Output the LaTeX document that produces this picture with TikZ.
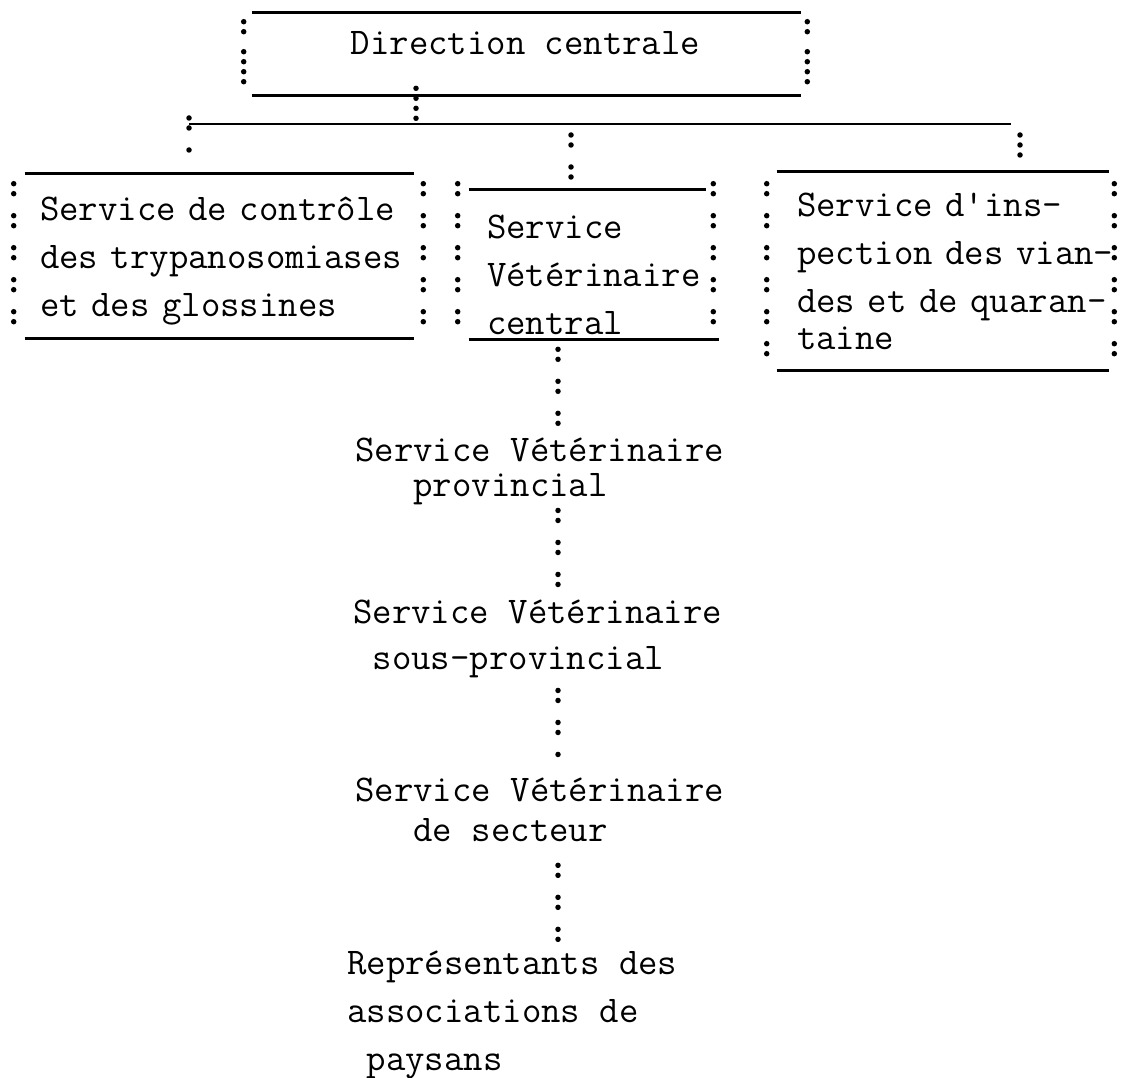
\documentclass[tikz,border=0pt]{standalone}
\usepackage{fontspec}

\tikzset{
  every picture/.style={line width=2.6pt},
  orgtext/.style={font=\ttfamily\fontsize{37.7}{48}\selectfont\addfontfeatures{FakeBold=1}, inner sep=0pt},
  boxrule/.style={line width=2.6pt},
  colonline/.style={line width=5.5pt, line cap=round, dash pattern={on 0pt off 10pt on 0pt off 22pt}},
  tapline/.style={colonline, dash pattern={on 0pt off 10pt}},
}

\begin{document}
\begin{tikzpicture}[x=1pt, y=-1pt]
    \useasboundingbox (0,0) rectangle (1129,1078);

    % direction
    \node[orgtext, minimum width=561pt, minimum height=80pt, text depth=22pt] (dc) at (525.5,54) {Direction centrale};

    % the three services
    \node[orgtext, align=left, text width=357pt, inner xsep=25pt, minimum height=162pt, text height=34pt] (ctrl) at (218.5,256)
        {\mbox{Service de contrôle}\\\mbox{des trypanosomiases}\\et des glossines};
    \node[orgtext, align=left, text width=197pt, inner xsep=28pt, minimum height=147pt, text height=45pt] (vet) at (585.5,264.5)
        {Service\\\mbox{Vétérinaire}\\central};
    \node[orgtext, align=left, text width=287pt, inner xsep=29pt, minimum height=196pt] (insp) at (940.5,271)
        {Service d'ins-\\\mbox{pection des vian-}\\\mbox{des et de quaran-}\\[-11pt]taine};

    % chain below the central service
    \node[orgtext, align=left, anchor=north west] (prov) at (354,437) {Service Vétérinaire\\[-13pt]\hphantom{xxx}provincial};
    \node[orgtext, align=left, anchor=north west] (sous) at (352,599) {Service Vétérinaire\\[-2pt]\hphantom{x}sous-provincial};
    \node[orgtext, align=left, anchor=north west] (sect) at (354,777) {Service Vétérinaire\\[-8pt]\hphantom{xxx}de secteur};
    \node[orgtext, align=left, anchor=north west] (rep) at (346,950) {Représentants des\\associations de\\\hphantom{x}paysans};

    % frames
    \draw[boxrule, shorten <=8pt, shorten >=6pt] (dc.north west) -- (dc.north east);
    \draw[boxrule, shorten <=8pt, shorten >=6pt] (dc.south west) -- (dc.south east);
    \draw[colonline, dash pattern={on 0pt off 10pt on 0pt off 20pt on 0pt off 10pt on 0pt off 10pt}, shorten <=9pt, shorten >=8pt] (dc.north west) -- (dc.south west);
    \draw[colonline, dash pattern={on 0pt off 10pt on 0pt off 20pt on 0pt off 10pt on 0pt off 10pt}, shorten <=9pt, shorten >=8pt] (dc.north east) -- (dc.south east);

    \draw[boxrule, shorten <=11pt, shorten >=9pt] (ctrl.north west) -- (ctrl.north east);
    \draw[boxrule, shorten <=11pt, shorten >=9pt] (ctrl.south west) -- (ctrl.south east);
    \draw[colonline, shorten <=10pt, shorten >=10pt] (ctrl.north west) -- (ctrl.south west);
    \draw[colonline, shorten <=10pt, shorten >=10pt] (ctrl.north east) -- (ctrl.south east);

    \draw[boxrule, shorten <=11pt, shorten >=7pt] (vet.north west) -- (vet.north east);
    \draw[boxrule, shorten <=11pt, shorten >=-6pt] (vet.south west) -- (vet.south east);
    \draw[colonline, shorten >=5pt] ([yshift=6pt]vet.north west) -- (vet.south west);
    \draw[colonline, shorten >=5pt] ([yshift=6pt]vet.north east) -- (vet.south east);

    \draw[boxrule, shorten <=10pt, shorten >=5pt] (insp.north west) -- (insp.north east);
    \draw[boxrule, shorten <=10pt, shorten >=5pt] (insp.south west) -- (insp.south east);
    \draw[colonline, shorten <=12pt, shorten >=9pt] (insp.north west) -- (insp.south west);
    \draw[colonline, shorten <=12pt, shorten >=9pt] (insp.north east) -- (insp.south east);

    % distribution line
    \coordinate (busW) at (189,124);
    \coordinate (busE) at (1011,124);
    \coordinate (dctap) at (416,124);
    \coordinate (midtap) at (571,124);
    \coordinate (righttap) at (1020,124);
    \draw[boxrule] (busW) -- (busE);
    \draw[tapline] ([yshift=7pt]dc.south -| dctap) -- (dctap);
    \draw[colonline, shorten >=15pt] ([yshift=6pt]busW) -- (ctrl.north -| busW);
    \draw[colonline, shorten <=11pt, shorten >=9pt] (midtap) -- (vet.north -| midtap);
    \draw[tapline, shorten <=11pt, shorten >=8pt] (righttap) -- (insp.north -| righttap);

    % down the chain
    \coordinate (spine) at (558,0);
    \draw[colonline, shorten <=10pt, shorten >=10pt] (vet.south -| spine) -- (prov.north -| spine);
    \draw[colonline, shorten <=4pt, shorten >=12pt] (prov.south -| spine) -- (sous.north -| spine);
    \draw[colonline, shorten <=11pt, shorten >=13pt] (sous.south -| spine) -- (sect.north -| spine);
    \draw[colonline, shorten <=22pt, shorten >=10pt] (sect.south -| spine) -- (rep.north -| spine);
\end{tikzpicture}
\end{document}
